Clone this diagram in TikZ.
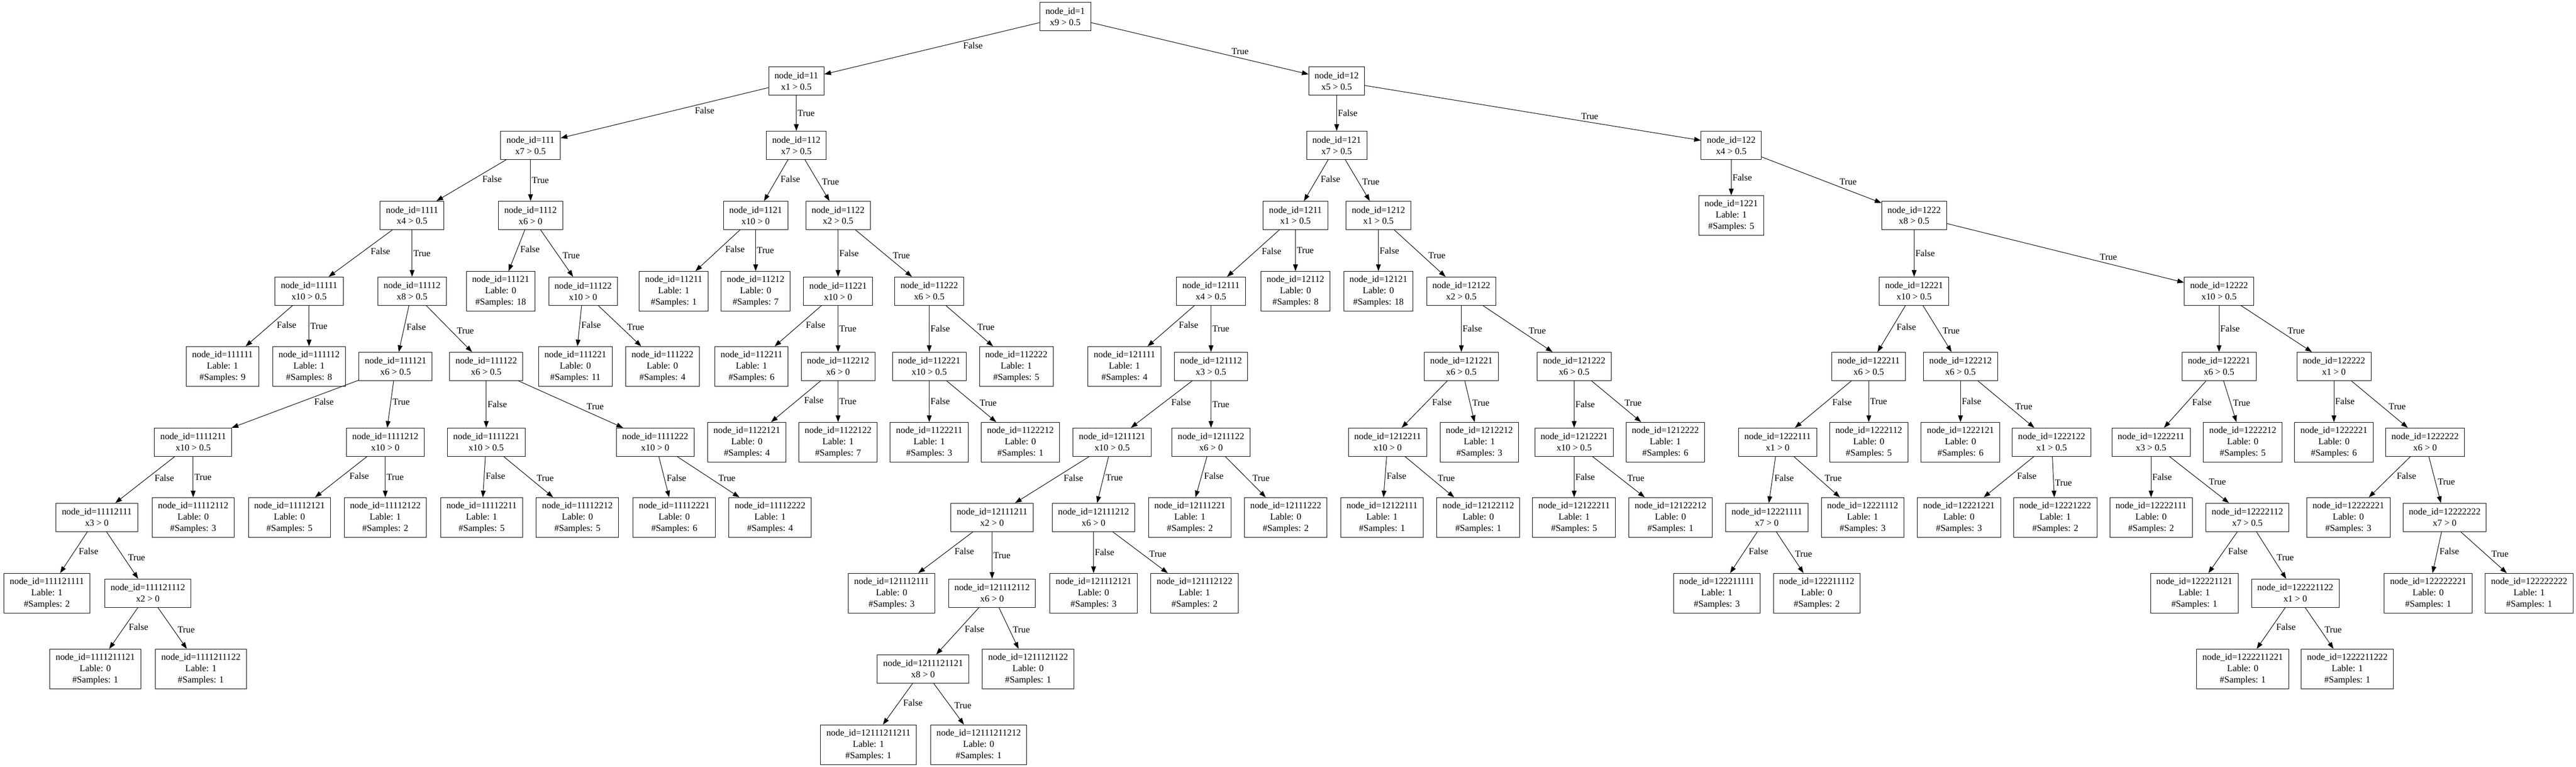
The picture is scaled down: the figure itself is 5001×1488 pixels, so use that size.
\documentclass[tikz,border=0pt]{standalone}
\usepackage{fontspec}
\setmainfont{Liberation Serif}
\usetikzlibrary{arrows.meta}

\begin{document}
\begin{tikzpicture}[x=0.755pt,y=-0.755pt,auto,inner sep=1.5pt,
  font=\fontsize{13.5}{16.6}\selectfont,
  >={Triangle[length=9.8pt,width=7pt]},
  split/.style={draw,rectangle,align=center,line width=0.75pt,inner xsep=8.5pt,inner ysep=0pt,minimum height=41.5pt},
  leaf/.style={split,minimum height=58.1pt},
  dl/.style={pos=.36},
  dr/.style={pos=.64}]
  \useasboundingbox (0,0) rectangle (5001,1488);
  \node[split] (1) at (2068,32) {node\_id=1\\x9 > 0.5};
  \node[split] (11) at (1546,157) {node\_id=11\\x1 > 0.5};
  \node[split] (12) at (2595,157) {node\_id=12\\x5 > 0.5};
  \node[split] (111) at (1030,282) {node\_id=111\\x7 > 0.5};
  \node[split] (112) at (1546,282) {node\_id=112\\x7 > 0.5};
  \node[split] (121) at (2595,282) {node\_id=121\\x7 > 0.5};
  \node[split] (122) at (3361,282) {node\_id=122\\x4 > 0.5};
  \node[split] (1111) at (800,418) {node\_id=1111\\x4 > 0.5};
  \node[split] (1112) at (1030,418) {node\_id=1112\\x6 > 0};
  \node[split] (1121) at (1467,418) {node\_id=1121\\x10 > 0};
  \node[split] (1122) at (1627,418) {node\_id=1122\\x2 > 0.5};
  \node[split] (1211) at (2515,418) {node\_id=1211\\x1 > 0.5};
  \node[split] (1212) at (2676,418) {node\_id=1212\\x1 > 0.5};
  \node[leaf] (1221) at (3361,418) {node\_id=1221\\Lable: 1\\\#Samples: 5};
  \node[split] (1222) at (3716,418) {node\_id=1222\\x8 > 0.5};
  \node[split] (11111) at (600,565) {node\_id=11111\\x10 > 0.5};
  \node[split] (11112) at (800,565) {node\_id=11112\\x8 > 0.5};
  \node[leaf] (11121) at (972,565) {node\_id=11121\\Lable: 0\\\#Samples: 18};
  \node[split] (11122) at (1132,565) {node\_id=11122\\x10 > 0};
  \node[leaf] (11211) at (1308,565) {node\_id=11211\\Lable: 1\\\#Samples: 1};
  \node[leaf] (11212) at (1467,565) {node\_id=11212\\Lable: 0\\\#Samples: 7};
  \node[split] (11221) at (1627,565) {node\_id=11221\\x10 > 0};
  \node[split] (11222) at (1804,565) {node\_id=11222\\x6 > 0.5};
  \node[split] (12111) at (2351,565) {node\_id=12111\\x4 > 0.5};
  \node[leaf] (12112) at (2515,565) {node\_id=12112\\Lable: 0\\\#Samples: 8};
  \node[leaf] (12121) at (2676,565) {node\_id=12121\\Lable: 0\\\#Samples: 18};
  \node[split] (12122) at (2837,565) {node\_id=12122\\x2 > 0.5};
  \node[split] (12221) at (3716,565) {node\_id=12221\\x10 > 0.5};
  \node[split] (12222) at (4308,565) {node\_id=12222\\x10 > 0.5};
  \node[leaf] (111111) at (432,711) {node\_id=111111\\Lable: 1\\\#Samples: 9};
  \node[leaf] (111112) at (600,711) {node\_id=111112\\Lable: 1\\\#Samples: 8};
  \node[split] (111121) at (768,711) {node\_id=111121\\x6 > 0.5};
  \node[split] (111122) at (944,711) {node\_id=111122\\x6 > 0.5};
  \node[leaf] (111221) at (1117,711) {node\_id=111221\\Lable: 0\\\#Samples: 11};
  \node[leaf] (111222) at (1286,711) {node\_id=111222\\Lable: 0\\\#Samples: 4};
  \node[leaf] (112211) at (1459,711) {node\_id=112211\\Lable: 1\\\#Samples: 6};
  \node[split] (112212) at (1627,711) {node\_id=112212\\x6 > 0};
  \node[split] (112221) at (1804,711) {node\_id=112221\\x10 > 0.5};
  \node[leaf] (112222) at (1973,711) {node\_id=112222\\Lable: 1\\\#Samples: 5};
  \node[leaf] (121111) at (2183,711) {node\_id=121111\\Lable: 1\\\#Samples: 4};
  \node[split] (121112) at (2351,711) {node\_id=121112\\x3 > 0.5};
  \node[split] (121221) at (2837,711) {node\_id=121221\\x6 > 0.5};
  \node[split] (121222) at (3056,711) {node\_id=121222\\x6 > 0.5};
  \node[split] (122211) at (3628,711) {node\_id=122211\\x6 > 0.5};
  \node[split] (122212) at (3806,711) {node\_id=122212\\x6 > 0.5};
  \node[split] (122221) at (4308,711) {node\_id=122221\\x6 > 0.5};
  \node[split] (122222) at (4531,711) {node\_id=122222\\x1 > 0};
  \node[split] (1111211) at (375,858) {node\_id=1111211\\x10 > 0.5};
  \node[split] (1111212) at (748,858) {node\_id=1111212\\x10 > 0};
  \node[split] (1111221) at (944,858) {node\_id=1111221\\x10 > 0.5};
  \node[split] (1111222) at (1272,858) {node\_id=1111222\\x10 > 0};
  \node[leaf] (1122121) at (1450,858) {node\_id=1122121\\Lable: 0\\\#Samples: 4};
  \node[leaf] (1122122) at (1627,858) {node\_id=1122122\\Lable: 1\\\#Samples: 7};
  \node[leaf] (1122211) at (1804,858) {node\_id=1122211\\Lable: 1\\\#Samples: 3};
  \node[leaf] (1122212) at (1981,858) {node\_id=1122212\\Lable: 0\\\#Samples: 1};
  \node[split] (1211121) at (2159,858) {node\_id=1211121\\x10 > 0.5};
  \node[split] (1211122) at (2351,858) {node\_id=1211122\\x6 > 0};
  \node[split] (1212211) at (2694,858) {node\_id=1212211\\x10 > 0};
  \node[leaf] (1212212) at (2872,858) {node\_id=1212212\\Lable: 1\\\#Samples: 3};
  \node[split] (1212221) at (3056,858) {node\_id=1212221\\x10 > 0.5};
  \node[leaf] (1212222) at (3233,858) {node\_id=1212222\\Lable: 1\\\#Samples: 6};
  \node[split] (1222111) at (3451,858) {node\_id=1222111\\x1 > 0};
  \node[leaf] (1222112) at (3628,858) {node\_id=1222112\\Lable: 0\\\#Samples: 5};
  \node[leaf] (1222121) at (3806,858) {node\_id=1222121\\Lable: 0\\\#Samples: 6};
  \node[split] (1222122) at (3983,858) {node\_id=1222122\\x1 > 0.5};
  \node[split] (1222211) at (4176,858) {node\_id=1222211\\x3 > 0.5};
  \node[leaf] (1222212) at (4354,858) {node\_id=1222212\\Lable: 0\\\#Samples: 5};
  \node[leaf] (1222221) at (4531,858) {node\_id=1222221\\Lable: 0\\\#Samples: 6};
  \node[split] (1222222) at (4708,858) {node\_id=1222222\\x6 > 0};
  \node[split] (11112111) at (188,1004) {node\_id=11112111\\x3 > 0};
  \node[leaf] (11112112) at (375,1004) {node\_id=11112112\\Lable: 0\\\#Samples: 3};
  \node[leaf] (11112121) at (562,1004) {node\_id=11112121\\Lable: 0\\\#Samples: 5};
  \node[leaf] (11112122) at (748,1004) {node\_id=11112122\\Lable: 1\\\#Samples: 2};
  \node[leaf] (11112211) at (935,1004) {node\_id=11112211\\Lable: 1\\\#Samples: 5};
  \node[leaf] (11112212) at (1121,1004) {node\_id=11112212\\Lable: 0\\\#Samples: 5};
  \node[leaf] (11112221) at (1309,1004) {node\_id=11112221\\Lable: 0\\\#Samples: 6};
  \node[leaf] (11112222) at (1495,1004) {node\_id=11112222\\Lable: 1\\\#Samples: 4};
  \node[split] (12111211) at (1926,1004) {node\_id=12111211\\x2 > 0};
  \node[split] (12111212) at (2123,1004) {node\_id=12111212\\x6 > 0};
  \node[leaf] (12111221) at (2310,1004) {node\_id=12111221\\Lable: 1\\\#Samples: 2};
  \node[leaf] (12111222) at (2496,1004) {node\_id=12111222\\Lable: 0\\\#Samples: 2};
  \node[leaf] (12122111) at (2683,1004) {node\_id=12122111\\Lable: 1\\\#Samples: 1};
  \node[leaf] (12122112) at (2870,1004) {node\_id=12122112\\Lable: 0\\\#Samples: 1};
  \node[leaf] (12122211) at (3056,1004) {node\_id=12122211\\Lable: 1\\\#Samples: 5};
  \node[leaf] (12122212) at (3243,1004) {node\_id=12122212\\Lable: 0\\\#Samples: 1};
  \node[split] (12221111) at (3430,1004) {node\_id=12221111\\x7 > 0};
  \node[leaf] (12221112) at (3616,1004) {node\_id=12221112\\Lable: 1\\\#Samples: 3};
  \node[leaf] (12221221) at (3803,1004) {node\_id=12221221\\Lable: 0\\\#Samples: 3};
  \node[leaf] (12221222) at (3990,1004) {node\_id=12221222\\Lable: 1\\\#Samples: 2};
  \node[leaf] (12222111) at (4176,1004) {node\_id=12222111\\Lable: 0\\\#Samples: 2};
  \node[split] (12222112) at (4363,1004) {node\_id=12222112\\x7 > 0.5};
  \node[leaf] (12222221) at (4559,1004) {node\_id=12222221\\Lable: 0\\\#Samples: 3};
  \node[split] (12222222) at (4746,1004) {node\_id=12222222\\x7 > 0};
  \node[leaf] (111121111) at (91,1151) {node\_id=111121111\\Lable: 1\\\#Samples: 2};
  \node[split] (111121112) at (287,1151) {node\_id=111121112\\x2 > 0};
  \node[leaf] (121112111) at (1731,1151) {node\_id=121112111\\Lable: 0\\\#Samples: 3};
  \node[split] (121112112) at (1926,1151) {node\_id=121112112\\x6 > 0};
  \node[leaf] (121112121) at (2123,1151) {node\_id=121112121\\Lable: 0\\\#Samples: 3};
  \node[leaf] (121112122) at (2319,1151) {node\_id=121112122\\Lable: 1\\\#Samples: 2};
  \node[leaf] (122211111) at (3333,1151) {node\_id=122211111\\Lable: 1\\\#Samples: 3};
  \node[leaf] (122211112) at (3527,1151) {node\_id=122211112\\Lable: 0\\\#Samples: 2};
  \node[leaf] (122221121) at (4260,1151) {node\_id=122221121\\Lable: 1\\\#Samples: 1};
  \node[split] (122221122) at (4456,1151) {node\_id=122221122\\x1 > 0};
  \node[leaf] (122222221) at (4714,1151) {node\_id=122222221\\Lable: 0\\\#Samples: 1};
  \node[leaf] (122222222) at (4910,1151) {node\_id=122222222\\Lable: 1\\\#Samples: 1};
  \node[leaf] (1111211121) at (185,1298) {node\_id=1111211121\\Lable: 0\\\#Samples: 1};
  \node[leaf] (1111211122) at (390,1298) {node\_id=1111211122\\Lable: 1\\\#Samples: 1};
  \node[split] (1211121121) at (1792,1298) {node\_id=1211121121\\x8 > 0};
  \node[leaf] (1211121122) at (1996,1298) {node\_id=1211121122\\Lable: 0\\\#Samples: 1};
  \node[leaf] (1222211221) at (4354,1298) {node\_id=1222211221\\Lable: 0\\\#Samples: 1};
  \node[leaf] (1222211222) at (4557,1298) {node\_id=1222211222\\Lable: 1\\\#Samples: 1};
  \node[leaf] (12111211211) at (1686,1445) {node\_id=12111211211\\Lable: 1\\\#Samples: 1};
  \node[leaf] (12111211212) at (1900,1445) {node\_id=12111211212\\Lable: 0\\\#Samples: 1};
  \path[->,line width=0.75pt]
    (1) edge node[dl] {False} (11)
    (1) edge node[dr] {True} (12)
    (11) edge node[dl] {False} (111)
    (11) edge node {True} (112)
    (12) edge node {False} (121)
    (12) edge node[dr] {True} (122)
    (111) edge node[dl] {False} (1111)
    (111) edge node {True} (1112)
    (112) edge node[dl] {False} (1121)
    (112) edge node[dr] {True} (1122)
    (121) edge node[dl] {False} (1211)
    (121) edge node[dr] {True} (1212)
    (122) edge node {False} (1221)
    (122) edge node[dr] {True} (1222)
    (1111) edge node[dl] {False} (11111)
    (1111) edge node {True} (11112)
    (1112) edge node[dl] {False} (11121)
    (1112) edge node[dr] {True} (11122)
    (1121) edge node[dl] {False} (11211)
    (1121) edge node {True} (11212)
    (1122) edge node {False} (11221)
    (1122) edge node[dr] {True} (11222)
    (1211) edge node[dl] {False} (12111)
    (1211) edge node {True} (12112)
    (1212) edge node {False} (12121)
    (1212) edge node[dr] {True} (12122)
    (1222) edge node {False} (12221)
    (1222) edge node[dr] {True} (12222)
    (11111) edge node[dl] {False} (111111)
    (11111) edge node {True} (111112)
    (11112) edge node[dl] {False} (111121)
    (11112) edge node[dr] {True} (111122)
    (11122) edge node[dl] {False} (111221)
    (11122) edge node[dr] {True} (111222)
    (11221) edge node[dl] {False} (112211)
    (11221) edge node {True} (112212)
    (11222) edge node {False} (112221)
    (11222) edge node[dr] {True} (112222)
    (12111) edge node[dl] {False} (121111)
    (12111) edge node {True} (121112)
    (12122) edge node {False} (121221)
    (12122) edge node[dr] {True} (121222)
    (12221) edge node[dl] {False} (122211)
    (12221) edge node[dr] {True} (122212)
    (12222) edge node {False} (122221)
    (12222) edge node[dr] {True} (122222)
    (111121) edge node[dl] {False} (1111211)
    (111121) edge node[dl] {True} (1111212)
    (111122) edge node {False} (1111221)
    (111122) edge node[dr] {True} (1111222)
    (112212) edge node[dl] {False} (1122121)
    (112212) edge node {True} (1122122)
    (112221) edge node {False} (1122211)
    (112221) edge node[dr] {True} (1122212)
    (121112) edge node[dl] {False} (1211121)
    (121112) edge node {True} (1211122)
    (121221) edge node[dl] {False} (1212211)
    (121221) edge node[dr] {True} (1212212)
    (121222) edge node {False} (1212221)
    (121222) edge node[dr] {True} (1212222)
    (122211) edge node[dl] {False} (1222111)
    (122211) edge node {True} (1222112)
    (122212) edge node {False} (1222121)
    (122212) edge node[dr] {True} (1222122)
    (122221) edge node[dl] {False} (1222211)
    (122221) edge node[dr] {True} (1222212)
    (122222) edge node {False} (1222221)
    (122222) edge node[dr] {True} (1222222)
    (1111211) edge node[dl] {False} (11112111)
    (1111211) edge node {True} (11112112)
    (1111212) edge node[dl] {False} (11112121)
    (1111212) edge node {True} (11112122)
    (1111221) edge node[dl] {False} (11112211)
    (1111221) edge node[dr] {True} (11112212)
    (1111222) edge node[dr] {False} (11112221)
    (1111222) edge node[dr] {True} (11112222)
    (1211121) edge node[dl] {False} (12111211)
    (1211121) edge node[dl] {True} (12111212)
    (1211122) edge node[dl] {False} (12111221)
    (1211122) edge node[dr] {True} (12111222)
    (1212211) edge node[dl] {False} (12122111)
    (1212211) edge node[dr] {True} (12122112)
    (1212221) edge node {False} (12122211)
    (1212221) edge node[dr] {True} (12122212)
    (1222111) edge node[dl] {False} (12221111)
    (1222111) edge node[dr] {True} (12221112)
    (1222122) edge node[dl] {False} (12221221)
    (1222122) edge node[dr] {True} (12221222)
    (1222211) edge node {False} (12222111)
    (1222211) edge node[dr] {True} (12222112)
    (1222222) edge node[dl] {False} (12222221)
    (1222222) edge node[dr] {True} (12222222)
    (11112111) edge node[dl] {False} (111121111)
    (11112111) edge node[dr] {True} (111121112)
    (12111211) edge node[dl] {False} (121112111)
    (12111211) edge node {True} (121112112)
    (12111212) edge node {False} (121112121)
    (12111212) edge node[dr] {True} (121112122)
    (12221111) edge node[dl] {False} (122211111)
    (12221111) edge node[dr] {True} (122211112)
    (12222112) edge node[dl] {False} (122221121)
    (12222112) edge node[dr] {True} (122221122)
    (12222222) edge node[dl] {False} (122222221)
    (12222222) edge node[dr] {True} (122222222)
    (111121112) edge node[dl] {False} (1111211121)
    (111121112) edge node[dr] {True} (1111211122)
    (121112112) edge node[dl] {False} (1211121121)
    (121112112) edge node[dr] {True} (1211121122)
    (122221122) edge node[dl] {False} (1222211221)
    (122221122) edge node[dr] {True} (1222211222)
    (1211121121) edge node[dl] {False} (12111211211)
    (1211121121) edge node[dr] {True} (12111211212);
\end{tikzpicture}
\end{document}
